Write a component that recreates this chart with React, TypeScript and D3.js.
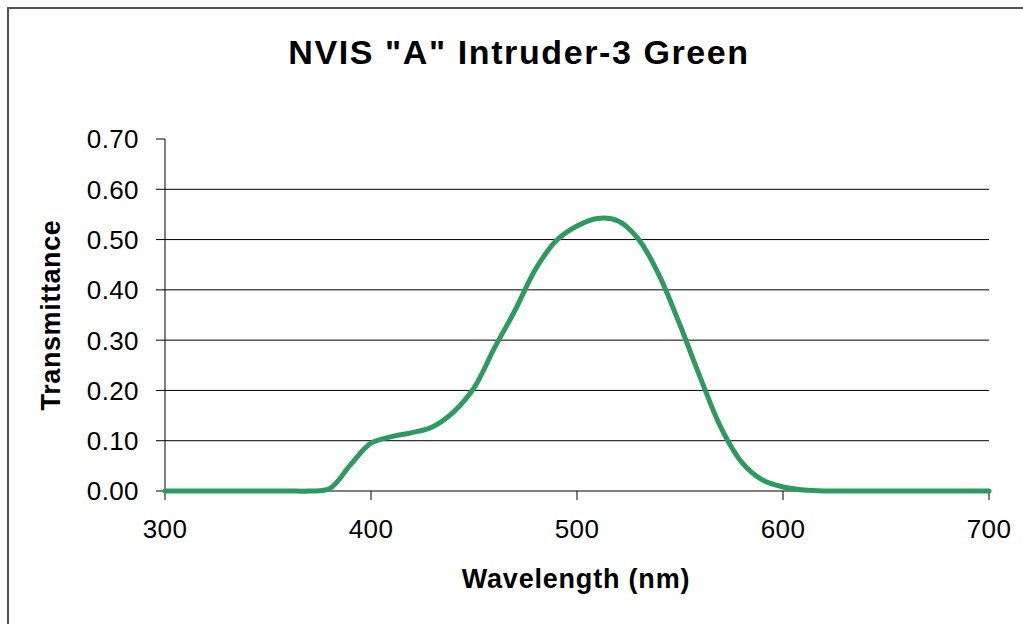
import React from "react";
import * as d3 from "d3";

const wavelengths = [300,310,320,330,340,350,360,370,380,390,400,410,420,430,440,450,460,470,480,490,500,510,520,530,540,550,560,570,580,590,600,610,620,630,640,650,660,670,680,690,700];
const transmittance = [0,0,0,0,0,0,0,0,0.005,0.052,0.095,0.108,0.116,0.128,0.157,0.205,0.285,0.36,0.442,0.498,0.527,0.542,0.537,0.5,0.428,0.33,0.224,0.125,0.057,0.022,0.008,0.002,0,0,0,0,0,0,0,0,0];
const xTicks = [300, 400, 500, 600, 700];
const yTicks = [0, 0.1, 0.2, 0.3, 0.4, 0.5, 0.6, 0.7];
const title = 'NVIS "A" Intruder-3 Green';
const xTitle = "Wavelength (nm)";
const yTitle = "Transmittance";

export default function App() {
  const W = 1023, H = 624;
  const x = d3.scaleLinear().domain([300, 700]).range([165, 989]);
  const y = d3.scaleLinear().domain([0, 0.7]).range([491, 139]);
  const pts = wavelengths.map((w, i) => [w, transmittance[i]] as [number, number]);
  const line = d3.line<[number, number]>()
    .x(d => x(d[0]))
    .y(d => Math.min(491, y(d[1])))
    .curve(d3.curveCatmullRom.alpha(0.5));
  const font = "'Liberation Sans', Arial, sans-serif";
  return (
    <svg width={W} height={H} style={{ position: "absolute", left: 0, top: 0, background: "#fff" }} fontFamily={font}>
      <rect x={0} y={0} width={W} height={H} fill="#fff" />
      <rect x={8} y={8} width={W + 20} height={H + 20} fill="none" stroke="#555" strokeWidth={2} />
      {yTicks.filter(t => t > 0 && t < 0.7).map(t => (
        <line key={"g" + t} x1={165} x2={989} y1={y(t)} y2={y(t)} stroke="#000" strokeWidth={1} />
      ))}
      <line x1={165} x2={165} y1={139} y2={491} stroke="#000" strokeWidth={1} />
      <line x1={165} x2={989} y1={491} y2={491} stroke="#000" strokeWidth={1} />
      {yTicks.map(t => (
        <g key={"y" + t}>
          <line x1={156} x2={165} y1={y(t)} y2={y(t)} stroke="#000" strokeWidth={1} />
          <text x={139} y={y(t)} dy="0.36em" textAnchor="end" fontSize={26} letterSpacing={0.4} fill="#000">{t.toFixed(2)}</text>
        </g>
      ))}
      {xTicks.map(t => (
        <g key={"x" + t}>
          <line x1={x(t)} x2={x(t)} y1={491} y2={500} stroke="#000" strokeWidth={1} />
          <text x={x(t)} y={538} textAnchor="middle" fontSize={26} letterSpacing={0.4} fill="#000">{t}</text>
        </g>
      ))}
      <path d={line(pts) || ""} fill="none" stroke="#2e9a5f" strokeWidth={5} strokeLinejoin="round" strokeLinecap="round" />
      <text x={519} y={64} textAnchor="middle" fontSize={34} fontWeight="bold" letterSpacing={1.6} fill="#000">{title}</text>
      <text x={576} y={588} textAnchor="middle" fontSize={27} fontWeight="bold" letterSpacing={0.8} fill="#000">{xTitle}</text>
      <text transform={`translate(60,315) rotate(-90)`} textAnchor="middle" fontSize={27} fontWeight="bold" letterSpacing={0.6} fill="#000">{yTitle}</text>
    </svg>
  );
}
